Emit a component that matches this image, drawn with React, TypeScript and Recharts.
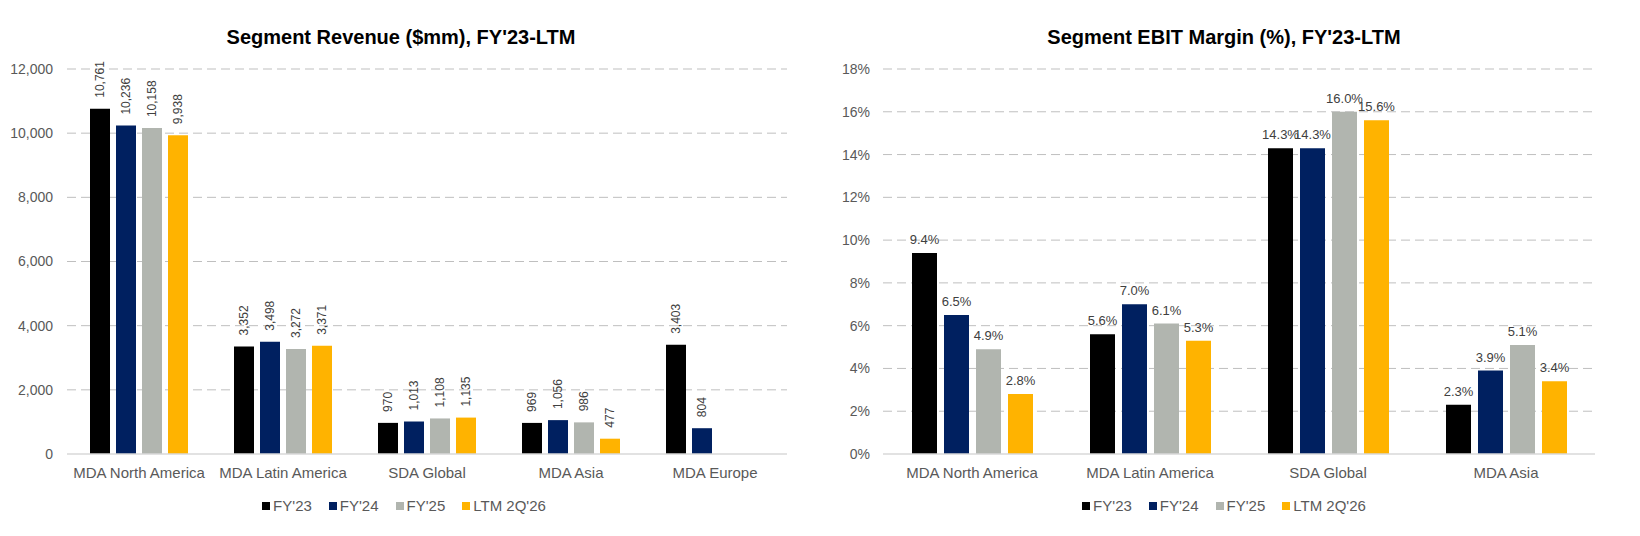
import { BarChart, Bar, XAxis, YAxis, CartesianGrid, LabelList } from 'recharts';

// ---- data ----
const revenueSegments = ['MDA North America', 'MDA Latin America', 'SDA Global', 'MDA Asia', 'MDA Europe'];
const revFY23 = [10761, 3352, 970, 969, 3403];
const revFY24 = [10236, 3498, 1013, 1056, 804];
const revFY25 = [10158, 3272, 1108, 986, null];
const revLTM = [9938, 3371, 1135, 477, null];
const revenueTicks = [0, 2000, 4000, 6000, 8000, 10000, 12000];

const marginSegments = ['MDA North America', 'MDA Latin America', 'SDA Global', 'MDA Asia'];
const marFY23 = [9.4, 5.6, 14.3, 2.3];
const marFY24 = [6.5, 7.0, 14.3, 3.9];
const marFY25 = [4.9, 6.1, 16.0, 5.1];
const marLTM = [2.8, 5.3, 15.6, 3.4];
const marginTicks = [0, 2, 4, 6, 8, 10, 12, 14, 16, 18];

const seriesKeys = ['fy23', 'fy24', 'fy25', 'ltm'];
const seriesNames = ["FY'23", "FY'24", "FY'25", "LTM 2Q'26"];
const seriesColors = ['#000000', '#002060', '#B1B5AF', '#FFB300'];

const revenueData = revenueSegments.map((segment, i) => ({
  segment,
  fy23: revFY23[i],
  fy24: revFY24[i],
  fy25: revFY25[i],
  ltm: revLTM[i],
}));

const marginData = marginSegments.map((segment, i) => ({
  segment,
  fy23: marFY23[i],
  fy24: marFY24[i],
  fy25: marFY25[i],
  ltm: marLTM[i],
}));

const FONT = '"Liberation Sans", Arial, sans-serif';
const tickStyle = { fontSize: 14, fill: '#595959', fontFamily: FONT };
const catStyle = { fontSize: 15, fill: '#595959', fontFamily: FONT };

function RotatedLabel(props: any) {
  const { x, y, width, value } = props;
  if (value == null) return null;
  const cx = x + width / 2;
  const ty = y - 11;
  return (
    <text
      x={cx}
      y={ty}
      transform={`rotate(-90, ${cx}, ${ty})`}
      textAnchor="start"
      dominantBaseline="central"
      fontSize={12}
      fill="#404040"
      fontFamily={FONT}
    >
      {value.toLocaleString('en-US')}
    </text>
  );
}

function PctLabel(props: any) {
  const { x, y, width, value } = props;
  if (value == null) return null;
  return (
    <text
      x={x + width / 2}
      y={y - 9}
      textAnchor="middle"
      fontSize={13}
      fill="#404040"
      fontFamily={FONT}
    >
      {`${value.toFixed(1)}%`}
    </text>
  );
}

function Legend({ center }: { center: number }) {
  return (
    <div
      style={{
        position: 'absolute',
        left: center - 200,
        width: 400,
        top: 496,
        display: 'flex',
        justifyContent: 'center',
        alignItems: 'center',
        fontFamily: FONT,
        fontSize: 15,
        color: '#595959',
        lineHeight: '20px',
      }}
    >
      {seriesNames.map((name, i) => (
        <div key={name} style={{ display: 'flex', alignItems: 'center', marginRight: i < seriesNames.length - 1 ? 17 : 0 }}>
          <span style={{ width: 8, height: 8, background: seriesColors[i], marginRight: 3, display: 'inline-block' }} />
          <span>{name}</span>
        </div>
      ))}
    </div>
  );
}

function Title({ center, text }: { center: number; text: string }) {
  return (
    <div
      style={{
        position: 'absolute',
        left: center - 250,
        width: 500,
        top: 25,
        textAlign: 'center',
        fontFamily: FONT,
        fontWeight: 'bold',
        fontSize: 20,
        lineHeight: '24px',
        color: '#000',
      }}
    >
      {text}
    </div>
  );
}

export default function App() {
  return (
    <div style={{ position: 'absolute', left: 0, top: 0, width: 1640, height: 536, background: '#fff', overflow: 'hidden' }}>
      <Title center={401} text="Segment Revenue ($mm), FY'23-LTM" />
      <Title center={1224} text="Segment EBIT Margin (%), FY'23-LTM" />

      <div style={{ position: 'absolute', left: 0, top: 0 }}>
        <BarChart
          width={800}
          height={536}
          data={revenueData}
          margin={{ top: 69, right: 13, left: 7, bottom: 52 }}
          barGap={6}
        >
          <CartesianGrid
            vertical={false}
            stroke="#BFBFBF"
            strokeDasharray="9 5"
            horizontalValues={revenueTicks.filter((t) => t > 0)}
          />
          <XAxis
            dataKey="segment"
            tick={catStyle}
            tickLine={false}
            tickSize={0}
            tickMargin={13}
            axisLine={{ stroke: '#D9D9D9', strokeWidth: 1.5 }}
            height={30}
            interval={0}
          />
          <YAxis
            domain={[0, 12000]}
            ticks={revenueTicks}
            tick={tickStyle}
            tickFormatter={(v: number) => v.toLocaleString('en-US')}
            tickLine={false}
            axisLine={false}
            tickSize={0}
            tickMargin={14}
            width={60}
          />
          {seriesKeys.map((key, i) => (
            <Bar key={key} dataKey={key} name={seriesNames[i]} fill={seriesColors[i]} barSize={20} isAnimationActive={false}>
              <LabelList dataKey={key} content={RotatedLabel} />
            </Bar>
          ))}
        </BarChart>
      </div>

      <div style={{ position: 'absolute', left: 820, top: 0 }}>
        <BarChart
          width={820}
          height={536}
          data={marginData}
          margin={{ top: 69, right: 45, left: 3, bottom: 52 }}
          barGap={7}
        >
          <CartesianGrid
            vertical={false}
            stroke="#BFBFBF"
            strokeDasharray="9 5"
            horizontalValues={marginTicks.filter((t) => t > 0)}
          />
          <XAxis
            dataKey="segment"
            tick={catStyle}
            tickLine={false}
            tickSize={0}
            tickMargin={13}
            axisLine={{ stroke: '#D9D9D9', strokeWidth: 1.5 }}
            height={30}
            interval={0}
          />
          <YAxis
            domain={[0, 18]}
            ticks={marginTicks}
            tick={tickStyle}
            tickFormatter={(v: number) => `${v}%`}
            tickLine={false}
            axisLine={false}
            tickSize={0}
            tickMargin={13}
            width={60}
          />
          {seriesKeys.map((key, i) => (
            <Bar key={key} dataKey={key} name={seriesNames[i]} fill={seriesColors[i]} barSize={25} isAnimationActive={false}>
              <LabelList dataKey={key} content={PctLabel} />
            </Bar>
          ))}
        </BarChart>
      </div>

      <Legend center={404} />
      <Legend center={1224} />
    </div>
  );
}
